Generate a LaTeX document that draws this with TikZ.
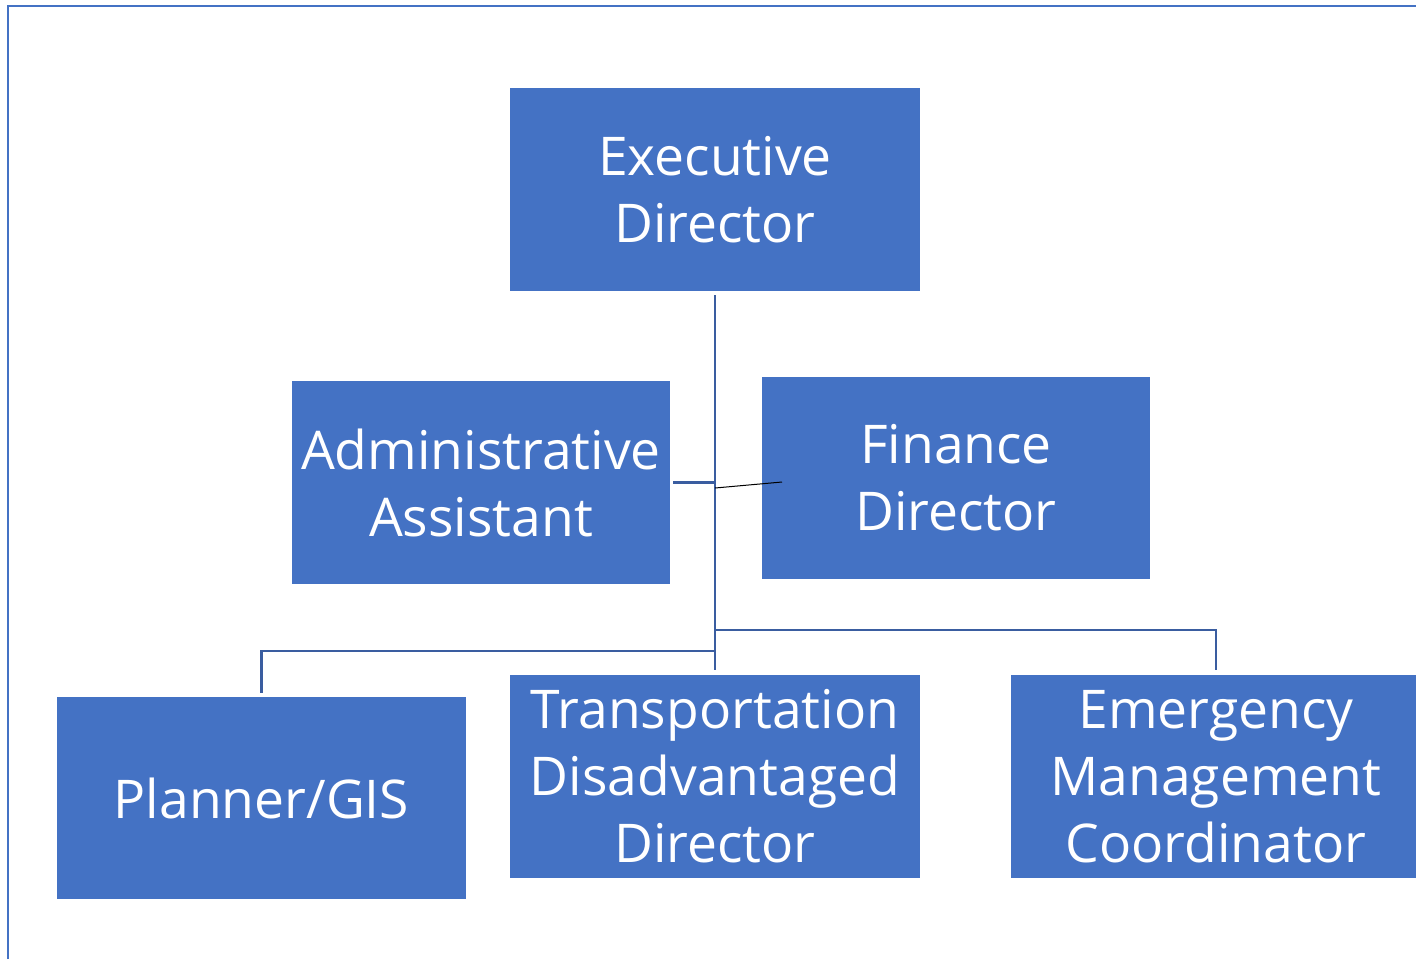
\documentclass[tikz,border=0pt]{standalone}
\usepackage{fontspec}
\setmainfont{Open Sans}
\usepackage{tikz}
\usetikzlibrary{calc}
\definecolor{boxblue}{HTML}{4472C4}
\definecolor{linkblue}{HTML}{3A5DA0}
\definecolor{framecol}{HTML}{4472C4}
\tikzset{
  role/.style={fill=boxblue, draw=none, text=white, align=center, inner sep=0pt,
    font=\fontsize{26.7}{33.5}\selectfont, minimum width=205pt, minimum height=101.5pt},
  link/.style={draw=linkblue, line width=1.3pt},
  stray/.style={draw=black, line width=0.5pt},
  frame/.style={draw=framecol, line width=1.1pt},
}
\begin{document}
\begin{tikzpicture}[x=0.5pt,y=-0.5pt]
  \useasboundingbox (0,0) rectangle (1416,959);
  \draw[frame] (8,959) -- (8,6) -- (1416,6);

  \node[role] (exec) at (715,189.5) {Executive\\Director};
  \node[role,minimum width=189pt] (admin) at (481,482.5) {Administrative\\Assistant};
  \node[role,minimum width=194pt,minimum height=101pt] (finance) at (956,478) {Finance\\Director};
  \node[role,minimum width=204.5pt,minimum height=101pt] (planner) at (261.5,798) {Planner/GIS};
  \node[role] (tdd) at (715,776.5) {Transportation\\Disadvantaged\\Director};
  \node[role] (emc) at (1216,776.5) {Emergency\\Management\\Coordinator};

  \coordinate (trunktop) at ($(exec.south)+(0,4)$);
  \coordinate (trunkend) at ($(tdd.north)+(0,-5)$);
  \coordinate (rightfork) at (715,630);
  \coordinate (leftfork) at (715,651);
  \coordinate (finend) at (782,482);

  \draw[link] (trunktop) -- (trunkend);
  \draw[link] ($(admin.east)+(3,0)$) -- (admin.east -| trunktop);
  \draw[link] (rightfork) -| ($(emc.north)+(0,-5)$);
  \draw[link] (leftfork) -| ($(planner.north)+(0,-4)$);
  \draw[stray] (715,488) -- (finend);
\end{tikzpicture}
\end{document}
